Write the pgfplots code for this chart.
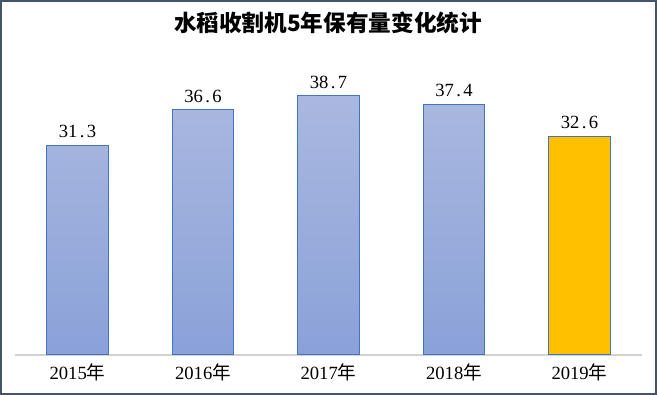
\documentclass[border=0pt]{standalone}
\usepackage{pgfplots}
\pgfplotsset{compat=1.18}
\usepackage{fontspec}
\setmainfont{Liberation Serif}
\newfontfamily\cjk{Noto Sans CJK SC}
\definecolor{barEdge}{RGB}{68,114,196}
\definecolor{barTop}{RGB}{170,184,224}
\definecolor{barBot}{RGB}{138,161,216}
\definecolor{gold}{RGB}{255,192,0}
\definecolor{frameCol}{RGB}{68,84,106}
\definecolor{baseGray}{RGB}{210,210,210}
\begin{document}
\begin{tikzpicture}[x=1pt,y=1pt]
\draw[frameCol, line width=1.2pt] (-10.5,-29.25) rectangle (482.25,266.25);
\begin{axis}[
  at={(0,0)}, anchor=south west,
  scale only axis,
  width=471.75pt, height=226.5pt,
  xmin=-0.5, xmax=4.5, ymin=0, ymax=45,
  xtick={0,1,2,3,4},
  xticklabels={2015{\cjk 年},2016{\cjk 年},2017{\cjk 年},2018{\cjk 年},2019{\cjk 年}},
  xticklabel pos=bottom,
  x tick label style={font=\fontsize{14}{16}\selectfont, yshift=-3pt},
  major tick length=0pt,
  tick style={draw=none},
  axis line style={draw=none},
  ytick=\empty,
  yticklabels={},
  /pgf/number format/assume math mode=true,
  clip=false,
  nodes near coords={\pgfmathprintnumber[fixed,fixed zerofill,precision=1,dec sep={\makebox[0.5em]{.}}]{\pgfplotspointmeta}},
  nodes near coords style={font=\fontsize{14}{16}\selectfont, black, yshift=2pt},
  ybar, bar width=46.5pt, bar shift=0pt,
]
\draw[draw=baseGray, line width=1pt] (axis cs:-0.5,0) -- (axis cs:4.5,0);
\addplot[draw=barEdge, line width=0.7pt, top color=barTop, bottom color=barBot]
  coordinates {(0,31.3) (1,36.6) (2,38.7) (3,37.4)};
\addplot[draw=barEdge, line width=0.7pt, fill=gold]
  coordinates {(4,32.6)};
\end{axis}
\node[font=\cjk\bfseries\fontsize{17}{20}\selectfont] at (235.5,249.75) {水稻收割机5年保有量变化统计};
\end{tikzpicture}
\end{document}
